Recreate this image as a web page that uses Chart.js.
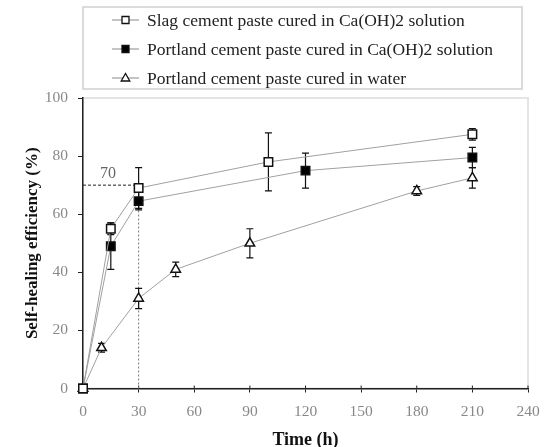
<!DOCTYPE html>
<html>
<head>
<meta charset="utf-8">
<script src="https://cdn.jsdelivr.net/npm/chart.js@4.4.1/dist/chart.umd.min.js"></script>
<style>
  html, body { margin: 0; padding: 0; background: #fff; }
  canvas { display: block; }
</style>
</head>
<body>
<canvas id="chart" width="545" height="447"></canvas>
<script>
// data
const seriesLabels = [
  "Slag cement paste cured in Ca(OH)2 solution",
  "Portland cement paste cured in Ca(OH)2 solution",
  "Portland cement paste cured in water"
];
const slagTime = [0, 15, 30, 100, 210];
const slagEff = [0, 55, 69, 78, 87.5];
const slagErr = [0, 2, 7, 10, 2];

const portCaTime = [0, 15, 30, 120, 210];
const portCaEff = [0, 49, 64.5, 75, 79.5];
const portCaErr = [0, 8, 3, 6, 3.5];

const waterTime = [0, 10, 30, 50, 90, 180, 210];
const waterEff = [0, 14, 31, 41, 50, 68, 72.5];
const waterErr = [0, 1.5, 3.5, 2.5, 5, 1.5, 3.5];

const xTicks = [0, 30, 60, 90, 120, 150, 180, 210, 240];
const yTicks = [0, 20, 40, 60, 80, 100];

// 70 % reference reached at 30 h
const refTime = 30;
const refEff = 70;

const serif = "'Liberation Serif', 'Times New Roman', serif";

function toPoints(xs, ys) {
  return xs.map((x, i) => ({ x: x, y: ys[i] }));
}

const errors = [slagErr, portCaErr, waterErr];

// error bars, drawn under the markers
const errorBars = {
  id: "errorBars",
  beforeDatasetsDraw(chart) {
    const ctx = chart.ctx;
    const y = chart.scales.y;
    ctx.save();
    ctx.strokeStyle = "#111";
    ctx.lineWidth = 1.2;
    chart.data.datasets.forEach((ds, d) => {
      const meta = chart.getDatasetMeta(d);
      meta.data.forEach((pt, i) => {
        const e = errors[d][i];
        if (!e) return;
        const top = y.getPixelForValue(ds.data[i].y + e);
        const bot = y.getPixelForValue(ds.data[i].y - e);
        ctx.beginPath();
        ctx.moveTo(pt.x, top);
        ctx.lineTo(pt.x, bot);
        ctx.moveTo(pt.x - 3.5, top);
        ctx.lineTo(pt.x + 3.5, top);
        ctx.moveTo(pt.x - 3.5, bot);
        ctx.lineTo(pt.x + 3.5, bot);
        ctx.stroke();
      });
    });
    ctx.restore();
  }
};

// plot frame, dashed guide lines and the "70" note
const guides = {
  id: "guides",
  beforeDraw(chart) {
    const a = chart.chartArea;
    const ctx = chart.ctx;
    ctx.save();
    ctx.strokeStyle = "#e4e4e4";
    ctx.lineWidth = 2;
    ctx.strokeRect(a.left, a.top, a.right - a.left, a.bottom - a.top);
    ctx.restore();
  },
  beforeDatasetsDraw(chart) {
    const ctx = chart.ctx;
    const x = chart.scales.x, y = chart.scales.y;
    const px = x.getPixelForValue(refTime);
    const py = y.getPixelForValue(refEff);
    ctx.save();
    // x ticks cross the axis line
    ctx.strokeStyle = "#222";
    ctx.lineWidth = 1;
    x.ticks.forEach(t => {
      const tx = x.getPixelForValue(t.value);
      ctx.beginPath();
      ctx.moveTo(tx, x.top - 3);
      ctx.lineTo(tx, x.top);
      ctx.stroke();
    });
    ctx.setLineDash([3, 2]);
    ctx.beginPath();
    ctx.moveTo(x.getPixelForValue(0), py);
    ctx.lineTo(px, py);
    ctx.stroke();
    ctx.strokeStyle = "#777";
    ctx.setLineDash([2, 2]);
    ctx.beginPath();
    ctx.moveTo(px, y.getPixelForValue(0));
    ctx.lineTo(px, py);
    ctx.stroke();
    ctx.setLineDash([]);
    ctx.fillStyle = "#666";
    ctx.font = "16px " + serif;
    ctx.textAlign = "center";
    ctx.textBaseline = "bottom";
    ctx.fillText(String(refEff), x.getPixelForValue(refTime * 0.45), py - 3);
    ctx.restore();
  }
};

// boxed legend above the plot, one series per row
const boxLegend = {
  id: "boxLegend",
  afterDraw(chart) {
    const ctx = chart.ctx;
    const a = chart.chartArea;
    const left = a.left, right = 522, top = 7, bottom = 89;
    ctx.save();
    ctx.strokeStyle = "#cfcfcf";
    ctx.lineWidth = 1.5;
    ctx.strokeRect(left, top, right - left, bottom - top);
    const rows = [20, 49, 78];
    chart.data.datasets.forEach((ds, d) => {
      const ry = rows[d];
      ctx.strokeStyle = "#888";
      ctx.lineWidth = 1;
      ctx.beginPath();
      ctx.moveTo(112, ry);
      ctx.lineTo(139, ry);
      ctx.stroke();
      ctx.fillStyle = ds.pointBackgroundColor;
      ctx.strokeStyle = "#111";
      ctx.lineWidth = 1.3;
      ctx.beginPath();
      if (ds.pointStyle === "triangle") {
        ctx.moveTo(125.5, ry - 4.5);
        ctx.lineTo(129.8, ry + 3);
        ctx.lineTo(121.2, ry + 3);
        ctx.closePath();
      } else {
        ctx.rect(122, ry - 3.5, 7, 7);
      }
      ctx.fill();
      ctx.stroke();
      ctx.fillStyle = "#222";
      ctx.font = "17.5px " + serif;
      ctx.textAlign = "left";
      ctx.textBaseline = "middle";
      ctx.fillText(ds.label, 147, ry + 1);
    });
    ctx.restore();
  }
};

const lineStyle = {
  borderColor: "#a0a0a0",
  borderWidth: 1,
  pointBorderColor: "#111",
  pointBorderWidth: 1.5,
  tension: 0,
  clip: false
};

new Chart(document.getElementById("chart"), {
  type: "line",
  data: {
    datasets: [
      Object.assign({
        label: seriesLabels[0],
        data: toPoints(slagTime, slagEff),
        pointStyle: "rect",
        pointRadius: 6,
        pointBackgroundColor: "#fff"
      }, lineStyle),
      Object.assign({
        label: seriesLabels[1],
        data: toPoints(portCaTime, portCaEff),
        pointStyle: "rect",
        pointRadius: 6,
        pointBackgroundColor: "#000"
      }, lineStyle),
      Object.assign({
        label: seriesLabels[2],
        data: toPoints(waterTime, waterEff),
        pointStyle: "triangle",
        pointRadius: 5.5,
        pointBackgroundColor: "#fff"
      }, lineStyle)
    ]
  },
  options: {
    responsive: false,
    animation: false,
    layout: { padding: { left: 0, right: 17, top: 98, bottom: 0 } },
    plugins: {
      legend: { display: false },
      tooltip: { enabled: false }
    },
    scales: {
      x: {
        type: "linear",
        min: 0,
        max: 240,
        afterBuildTicks: (s) => { s.ticks = xTicks.map(v => ({ value: v })); },
        afterFit: (s) => { s.height = 58.5; s.paddingLeft = 0; s.paddingRight = 0; },
        border: { color: "#222", width: 1.5 },
        grid: { drawOnChartArea: false, tickLength: 4, color: "#222" },
        ticks: { color: "#888", padding: 10, font: { family: serif, size: 15.5 } },
        title: {
          display: true,
          text: "Time (h)",
          color: "#111",
          padding: { top: 0, bottom: -4 },
          font: { family: serif, size: 18, weight: "bold" }
        }
      },
      y: {
        min: 0,
        max: 100,
        afterBuildTicks: (s) => { s.ticks = yTicks.map(v => ({ value: v })); },
        afterFit: (s) => { s.width = 83; s.paddingTop = 0; s.paddingBottom = 0; },
        border: { color: "#222", width: 1.5 },
        grid: { drawOnChartArea: false, tickLength: 5, color: "#222" },
        ticks: { color: "#888", padding: 10, font: { family: serif, size: 15.5 } },
        title: {
          display: true,
          text: "Self-healing efficiency (%)",
          color: "#111",
          padding: { top: 22, bottom: 0 },
          font: { family: serif, size: 17, weight: "bold" }
        }
      }
    }
  },
  plugins: [guides, errorBars, boxLegend]
});
</script>
</body>
</html>
